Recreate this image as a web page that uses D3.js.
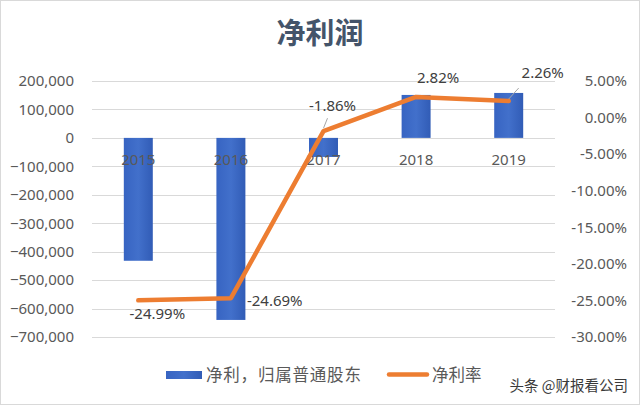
<!DOCTYPE html>
<html>
<head>
<meta charset="utf-8">
<script src="https://cdn.jsdelivr.net/npm/d3@7"></script>
<style>
  body { margin: 0; background: #fff; }
  svg { display: block; font-family: "Noto Sans", "Noto Sans CJK SC", sans-serif; }
</style>
</head>
<body>
<svg width="640" height="405"></svg>
<script>
// data
var years = ["2015", "2016", "2017", "2018", "2019"];
var netProfit = [-432000, -640000, -67000, 151000, 158000];
var netMargin = [-24.99, -24.69, -1.86, 2.82, 2.26];
var leftTicks = [200000, 100000, 0, -100000, -200000, -300000, -400000, -500000, -600000, -700000];
var rightTicks = [5, 0, -5, -10, -15, -20, -25, -30];
var seriesNames = ["净利，归属普通股东", "净利率"];

var svg = d3.select("svg");
var W = 640, H = 405;
var plotTop = 81, plotBottom = 337, plotLeft = 92, plotRight = 555;

// frame
svg.append("rect")
	.attr("x", 0.5).attr("y", 0.5)
	.attr("width", W - 1).attr("height", H - 1)
	.attr("fill", "#fff").attr("stroke", "#d9d9d9");

var x = d3.scaleBand().domain(years).range([plotLeft, plotRight])
	.paddingInner(0.687).paddingOuter(0.3435);
var y = d3.scaleLinear().domain([-700000, 200000]).range([plotBottom, plotTop]);
var y2 = d3.scaleLinear().domain([-30, 5]).range([plotBottom, plotTop]);

// gridlines
svg.append("g").selectAll("line")
	.data(leftTicks)
	.enter().append("line")
	.attr("x1", plotLeft).attr("x2", plotRight)
	.attr("y1", function(d){ return Math.round(y(d)) + 0.5; })
	.attr("y2", function(d){ return Math.round(y(d)) + 0.5; })
	.attr("stroke", "#d9d9d9");

// left axis
var fmt = d3.format(",");
var leftAxis = svg.append("g")
	.attr("transform", "translate(" + (plotLeft - 18) + ",0)")
	.call(d3.axisLeft(y).tickValues(leftTicks).tickSize(0).tickPadding(0)
		.tickFormat(function(d){ return fmt(d); }));
leftAxis.select(".domain").remove();
leftAxis.selectAll("text")
	.attr("fill", "#595959")
	.style("font-size", "15px")
	.style("font-family", "'Noto Sans', sans-serif");

// right axis
var rightAxis = svg.append("g")
	.attr("transform", "translate(627,0)")
	.call(d3.axisRight(y2).tickValues(rightTicks).tickSize(0).tickPadding(0)
		.tickFormat(function(d){ return d.toFixed(2) + "%"; }));
rightAxis.select(".domain").remove();
rightAxis.selectAll("text")
	.attr("text-anchor", "end")
	.attr("fill", "#595959")
	.style("font-size", "15px")
	.style("font-family", "'Noto Sans', sans-serif");

// bar gradient
var defs = svg.append("defs");
var grad = defs.append("linearGradient").attr("id", "barGrad")
	.attr("x1", "0").attr("x2", "1").attr("y1", "0").attr("y2", "0");
grad.append("stop").attr("offset", "0%").attr("stop-color", "#3764C2");
grad.append("stop").attr("offset", "50%").attr("stop-color", "#4270CB");
grad.append("stop").attr("offset", "100%").attr("stop-color", "#315CB6");

// bars
svg.append("g").selectAll("rect")
	.data(years)
	.enter().append("rect")
	.attr("x", function(d){ return x(d); })
	.attr("width", x.bandwidth())
	.attr("y", function(d, i){ return y(Math.max(0, netProfit[i])); })
	.attr("height", function(d, i){ return Math.abs(y(netProfit[i]) - y(0)); })
	.attr("fill", "url(#barGrad)");

// category labels (sit on top of the bars, near zero line)
svg.append("g").selectAll("text")
	.data(years)
	.enter().append("text")
	.attr("x", function(d){ return x(d) + x.bandwidth() / 2; })
	.attr("y", y(0) + 27)
	.attr("text-anchor", "middle")
	.attr("fill", "#595959")
	.style("font-size", "15px")
	.text(function(d){ return d; });

// margin line
var cx = function(i){ return x(years[i]) + x.bandwidth() / 2; };
var line = d3.line()
	.x(function(d, i){ return cx(i); })
	.y(function(d){ return y2(d); });
svg.append("path")
	.datum(netMargin)
	.attr("d", line)
	.attr("fill", "none")
	.attr("stroke", "#ED7D31")
	.attr("stroke-width", 4.5)
	.attr("stroke-linejoin", "round")
	.attr("stroke-linecap", "round");

// data labels, placed by hand like in the source chart
var labelPlace = [
	{dx: 19, dy: 19, anchor: "middle"},
	{dx: 16, dy: 8, anchor: "start"},
	{dx: 9, dy: -20, anchor: "middle", lead: [[4, -13], [0, -3]]},
	{dx: 22, dy: -14, anchor: "middle"},
	{dx: 34, dy: -23, anchor: "middle", lead: [[10, -13], [0, -2]]}
];
var labels = svg.append("g");
netMargin.forEach(function(v, i){
	var p = labelPlace[i];
	var px = cx(i), py = y2(v);
	if (p.lead) {
		labels.append("line")
			.attr("x1", px + p.lead[0][0]).attr("y1", py + p.lead[0][1])
			.attr("x2", px + p.lead[1][0]).attr("y2", py + p.lead[1][1])
			.attr("stroke", "#a6a6a6").attr("stroke-width", 1);
	}
	labels.append("text")
		.attr("x", px + p.dx)
		.attr("y", py + p.dy)
		.attr("text-anchor", p.anchor)
		.attr("fill", "#404040")
		.style("font-size", "15px")
		.text(v.toFixed(2) + "%");
});

// title
svg.append("text")
	.attr("x", 320).attr("y", 44)
	.attr("text-anchor", "middle")
	.attr("fill", "#44546A")
	.style("font-family", "'Noto Sans CJK SC', sans-serif")
	.style("font-weight", "bold")
	.style("font-size", "29px")
	.text("净利润");

// legend
var lg = svg.append("g").style("font-family", "'Noto Sans CJK SC', sans-serif");
lg.append("rect")
	.attr("x", 166).attr("y", 371).attr("width", 36).attr("height", 8)
	.attr("fill", "url(#barGrad)");
lg.append("text")
	.attr("x", 206).attr("y", 381)
	.attr("fill", "#595959")
	.style("font-size", "16.5px")
	.style("letter-spacing", "0.8px")
	.text(seriesNames[0]);
lg.append("line")
	.attr("x1", 389).attr("x2", 427).attr("y1", 374.5).attr("y2", 374.5)
	.attr("stroke", "#ED7D31").attr("stroke-width", 4.5)
	.attr("stroke-linecap", "round");
lg.append("text")
	.attr("x", 432).attr("y", 381)
	.attr("fill", "#595959")
	.style("font-size", "16.5px")
	.text(seriesNames[1]);

// watermark
svg.append("text")
	.attr("x", 628).attr("y", 391)
	.attr("text-anchor", "end")
	.attr("fill", "#3a3a3a")
	.style("font-family", "'Noto Sans CJK SC', sans-serif")
	.style("font-size", "14.5px")
	.text("头条 @财报看公司");
</script>
</body>
</html>
